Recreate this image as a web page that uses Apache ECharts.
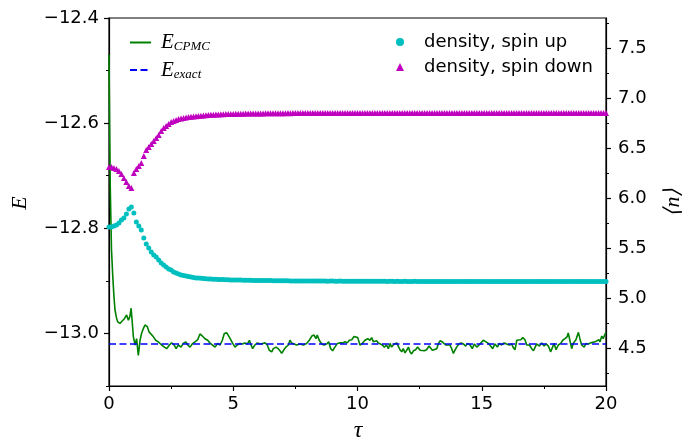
<!DOCTYPE html>
<html>
<head>
<meta charset="utf-8">
<script src="https://cdn.jsdelivr.net/npm/echarts@6/dist/echarts.min.js"></script>
<style>
  html, body { margin: 0; padding: 0; background: #ffffff; }
  #chart { width: 698px; height: 440px; }
</style>
</head>
<body>
<div id="chart"></div>
<script>
// CPMC energy estimate versus imaginary time tau
const cpmcTau = [
  0.00, 0.05, 0.10, 0.15, 0.20, 0.24, 0.30, 0.35, 0.44, 0.54, 0.62, 0.71, 0.78, 0.84, 0.89, 0.94, 0.98,
  1.05, 1.11, 1.18, 1.25, 1.31, 1.38, 1.45, 1.54, 1.61, 1.69, 1.78, 1.88, 1.98,
  2.12, 2.23, 2.32, 2.43, 2.52, 2.62, 2.70, 2.79, 2.90, 2.99,
  3.09, 3.17, 3.26, 3.35, 3.46, 3.57, 3.66, 3.76, 3.86, 3.97,
  4.06, 4.16, 4.27, 4.37, 4.47, 4.56, 4.64, 4.74, 4.83, 4.98,
  5.07, 5.16, 5.27, 5.38, 5.47, 5.57, 5.65, 5.70, 5.78, 5.87, 5.97,
  6.08, 6.18, 6.28, 6.37, 6.45, 6.55, 6.61, 6.72, 6.81, 6.88, 6.95,
  7.04, 7.12, 7.22, 7.28, 7.35, 7.45, 7.55, 7.69, 7.82, 7.95,
  8.06, 8.16, 8.25, 8.33, 8.38, 8.46, 8.56, 8.65, 8.76, 8.84, 8.92,
  9.00, 9.09, 9.19, 9.30, 9.40, 9.50, 9.59, 9.67, 9.77, 9.86, 9.94,
  10.01, 10.10, 10.19, 10.30, 10.41, 10.50, 10.57, 10.64, 10.70, 10.77, 10.84, 10.91,
  11.00, 11.08, 11.17, 11.24, 11.31, 11.37, 11.48, 11.58, 11.64, 11.71, 11.78, 11.84, 11.91, 11.98,
  12.05, 12.11, 12.18, 12.25, 12.34, 12.42, 12.52, 12.58, 12.69, 12.78, 12.88, 12.96,
  13.01, 13.09, 13.19, 13.25, 13.32, 13.41, 13.49, 13.55, 13.63, 13.72, 13.79, 13.86, 13.92, 13.99,
  14.08, 14.17, 14.26, 14.35, 14.43, 14.53, 14.62, 14.70, 14.80, 14.89, 14.97,
  15.06, 15.17, 15.27, 15.36, 15.44, 15.53, 15.63, 15.71, 15.80, 15.90,
  16.00, 16.11, 16.20, 16.27, 16.34, 16.41, 16.47, 16.57, 16.65, 16.74, 16.81, 16.92,
  17.01, 17.08, 17.14, 17.21, 17.32, 17.41, 17.51, 17.59, 17.68, 17.77, 17.85, 17.91, 17.99,
  18.08, 18.18, 18.26, 18.35, 18.44, 18.48, 18.55, 18.62, 18.69, 18.79, 18.89, 18.95,
  19.02, 19.12, 19.20, 19.29, 19.38, 19.46, 19.56, 19.62, 19.71, 19.76, 19.83, 19.89, 19.97, 20.00
];
const cpmcEnergy = [
  -12.470, -12.720, -12.840, -12.890, -12.930, -12.955, -12.970, -12.978, -12.981, -12.976, -12.972, -12.965, -12.975, -12.968, -12.952, -12.981, -13.006,
  -13.022, -13.010, -13.042, -13.013, -13.000, -12.991, -12.984, -12.987, -12.997, -13.000, -13.006, -13.013, -13.016,
  -13.022, -13.026, -13.029, -13.022, -13.018, -13.022, -13.029, -13.022, -13.026, -13.019,
  -13.016, -13.022, -13.026, -13.020, -13.016, -13.012, -13.001, -13.005, -13.010, -13.013,
  -13.018, -13.022, -13.026, -13.019, -13.022, -13.013, -13.000, -12.999, -13.006, -13.019,
  -13.026, -13.022, -13.019, -13.020, -13.018, -13.020, -13.013, -13.020, -13.029, -13.022, -13.018,
  -13.020, -13.019, -13.018, -13.022, -13.032, -13.035, -13.029, -13.026, -13.029, -13.033, -13.038,
  -13.031, -13.026, -13.022, -13.013, -13.018, -13.020, -13.022, -13.020, -13.022, -13.019,
  -13.013, -13.005, -13.003, -13.010, -13.003, -13.013, -13.020, -13.022, -13.020, -13.016, -13.029,
  -13.033, -13.026, -13.019, -13.018, -13.018, -13.016, -13.018, -13.013, -13.012, -13.006, -13.003,
  -13.008, -13.022, -13.019, -13.013, -13.010, -13.013, -13.008, -13.016, -13.019, -13.014, -13.018, -13.016,
  -13.022, -13.026, -13.022, -13.029, -13.019, -13.026, -13.020, -13.018, -13.024, -13.031, -13.035, -13.029, -13.037, -13.032,
  -13.026, -13.035, -13.039, -13.033, -13.031, -13.026, -13.032, -13.035, -13.033, -13.031, -13.024, -13.026,
  -13.032, -13.035, -13.029, -13.020, -13.014, -13.016, -13.018, -13.022, -13.020, -13.022, -13.029, -13.038, -13.032, -13.026,
  -13.020, -13.018, -13.020, -13.024, -13.019, -13.022, -13.029, -13.020, -13.026, -13.022, -13.018,
  -13.013, -13.016, -13.019, -13.024, -13.029, -13.020, -13.026, -13.019, -13.022, -13.018,
  -13.020, -13.022, -13.020, -13.027, -13.031, -13.013, -13.010, -13.012, -13.008, -13.012, -13.022, -13.022,
  -13.029, -13.033, -13.027, -13.020, -13.024, -13.018, -13.024, -13.020, -13.024, -13.035, -13.026, -13.019, -13.031,
  -13.022, -13.019, -13.013, -13.010, -13.006, -12.999, -13.014, -13.029, -13.018, -13.012, -12.998, -13.010,
  -13.022, -13.026, -13.019, -13.020, -13.018, -13.020, -13.016, -13.019, -13.012, -13.016, -13.005, -13.010, -13.000, -12.998
];

// exact ground-state energy
const exactTau = [0, 20];
const exactEnergy = [-13.02, -13.02];

// site densities, sampled every densityStep in tau
const densityStep = 0.1;
const spinUp = [
  5.71, 5.71, 5.72, 5.73, 5.75, 5.78, 5.80, 5.84, 5.89, 5.91,
  5.85, 5.76, 5.72, 5.68, 5.60, 5.54, 5.50, 5.46, 5.43, 5.41,
  5.38, 5.35, 5.33, 5.31, 5.29, 5.28, 5.26, 5.25, 5.24, 5.23,
  5.225, 5.22, 5.215, 5.21, 5.205, 5.20, 5.20, 5.198, 5.195, 5.193,
  5.190, 5.190, 5.188, 5.187, 5.186, 5.185, 5.184, 5.183, 5.182, 5.181,
  5.180, 5.180, 5.179, 5.179, 5.178, 5.178, 5.177, 5.177, 5.176, 5.176,
  5.175, 5.175, 5.175, 5.174, 5.174, 5.174, 5.173, 5.173, 5.173, 5.172,
  5.172, 5.172, 5.172, 5.171, 5.171, 5.171, 5.171, 5.170, 5.170, 5.170,
  5.170, 5.170, 5.169, 5.169, 5.170, 5.169, 5.169, 5.169, 5.168, 5.169,
  5.169, 5.168, 5.168, 5.169, 5.168, 5.168, 5.168, 5.168, 5.167, 5.168,
  5.168, 5.168, 5.167, 5.168, 5.167, 5.167, 5.168, 5.167, 5.167, 5.167,
  5.167, 5.167, 5.166, 5.167, 5.167, 5.166, 5.167, 5.166, 5.166, 5.167,
  5.166, 5.166, 5.166, 5.167, 5.166, 5.166, 5.166, 5.166, 5.166, 5.166,
  5.166, 5.165, 5.166, 5.166, 5.166, 5.165, 5.166, 5.165, 5.166, 5.166,
  5.165, 5.166, 5.165, 5.165, 5.166, 5.165, 5.165, 5.165, 5.166, 5.165,
  5.165, 5.165, 5.165, 5.166, 5.165, 5.165, 5.165, 5.165, 5.165, 5.165,
  5.165, 5.165, 5.166, 5.165, 5.165, 5.165, 5.165, 5.165, 5.165, 5.166,
  5.165, 5.165, 5.165, 5.165, 5.165, 5.166, 5.165, 5.165, 5.165, 5.165,
  5.165, 5.165, 5.165, 5.165, 5.166, 5.165, 5.165, 5.165, 5.165, 5.165,
  5.165, 5.165, 5.165, 5.165, 5.165, 5.165, 5.166, 5.165, 5.165, 5.165,
  5.165
];
const spinDown = [
  6.31, 6.31, 6.30, 6.29, 6.27, 6.24, 6.20, 6.16, 6.12, 6.10,
  6.25, 6.29, 6.32, 6.35, 6.42, 6.48, 6.51, 6.54, 6.57, 6.60,
  6.63, 6.67, 6.70, 6.72, 6.74, 6.76, 6.77, 6.78, 6.79, 6.795,
  6.800, 6.805, 6.810, 6.812, 6.815, 6.818, 6.820, 6.822, 6.825, 6.827,
  6.830, 6.832, 6.833, 6.835, 6.836, 6.837, 6.838, 6.839, 6.840, 6.840,
  6.841, 6.842, 6.842, 6.843, 6.843, 6.844, 6.844, 6.845, 6.845, 6.845,
  6.846, 6.846, 6.846, 6.847, 6.847, 6.847, 6.847, 6.848, 6.848, 6.848,
  6.848, 6.848, 6.849, 6.848, 6.849, 6.849, 6.849, 6.849, 6.849, 6.849,
  6.850, 6.849, 6.850, 6.850, 6.849, 6.850, 6.850, 6.850, 6.850, 6.850,
  6.850, 6.850, 6.850, 6.851, 6.850, 6.850, 6.850, 6.850, 6.851, 6.850,
  6.850, 6.850, 6.851, 6.850, 6.850, 6.851, 6.850, 6.850, 6.850, 6.851,
  6.850, 6.851, 6.850, 6.850, 6.851, 6.850, 6.851, 6.850, 6.850, 6.850,
  6.851, 6.850, 6.850, 6.851, 6.850, 6.850, 6.850, 6.851, 6.850, 6.850,
  6.850, 6.851, 6.850, 6.850, 6.850, 6.851, 6.850, 6.850, 6.851, 6.850,
  6.850, 6.850, 6.851, 6.850, 6.850, 6.850, 6.851, 6.850, 6.850, 6.850,
  6.851, 6.850, 6.850, 6.850, 6.851, 6.850, 6.850, 6.850, 6.850, 6.851,
  6.850, 6.850, 6.851, 6.850, 6.850, 6.850, 6.850, 6.851, 6.850, 6.850,
  6.850, 6.851, 6.850, 6.850, 6.850, 6.850, 6.851, 6.850, 6.850, 6.850,
  6.851, 6.850, 6.850, 6.850, 6.850, 6.851, 6.850, 6.850, 6.850, 6.850,
  6.850, 6.850, 6.851, 6.850, 6.850, 6.850, 6.850, 6.850, 6.851, 6.850,
  6.850
];

// axis ranges and tick positions
const tauRange = [0, 20];
const tauStep = 5;
const energyRange = [-13.1, -12.4];
const energyTicks = [-13.0, -12.8, -12.6, -12.4];
const energyMinorTicks = [-13.1, -12.9, -12.7, -12.5];
const densityRange = [4.12, 7.80];
const densityTicks = [4.5, 5.0, 5.5, 6.0, 6.5, 7.0, 7.5];
const densityMinorTicks = [4.25, 4.75, 5.25, 5.75, 6.25, 6.75, 7.25, 7.75];

const INK = '#000000';
const TICK_FONT = 'DejaVu Sans';
const MATH_FONT = 'Liberation Serif';
const fmt = v => v.toFixed(1).replace('-', '\u2212');

function zip(xs, ys) { return xs.map((x, i) => [x, ys[i]]); }
const spinUpData = spinUp.map((v, i) => [+(i * densityStep).toFixed(2), v]);
const spinDownData = spinDown.map((v, i) => [+(i * densityStep).toFixed(2), v]);

const majorAxis = (pos, range, ticks, margin) => ({
  type: 'value', position: pos, min: range[0], max: range[1],
  axisLine: { show: true, lineStyle: { color: INK, width: 1.2 } },
  axisTick: { show: true, customValues: ticks, length: 5, lineStyle: { color: INK, width: 1.2 } },
  axisLabel: { show: true, customValues: ticks, formatter: fmt, margin: margin,
               color: INK, fontSize: 18, fontFamily: TICK_FONT },
  splitLine: { show: false }
});
const minorAxis = (pos, range, ticks) => ({
  type: 'value', position: pos, min: range[0], max: range[1],
  axisLine: { show: false },
  axisTick: { show: true, customValues: ticks, length: 3, lineStyle: { color: INK, width: 1 } },
  axisLabel: { show: false },
  splitLine: { show: false }
});

const chart = echarts.init(document.getElementById('chart'), null, { renderer: 'canvas' });
chart.setOption({
  animation: false,
  backgroundColor: '#ffffff',
  grid: { left: 109, right: 92, top: 18, bottom: 54, show: true,
          borderColor: INK, borderWidth: 1.2, backgroundColor: 'transparent' },
  xAxis: {
    type: 'value', min: tauRange[0], max: tauRange[1], interval: tauStep,
    axisLine: { show: true, lineStyle: { color: INK, width: 1.2 } },
    axisTick: { show: true, length: 5, lineStyle: { color: INK, width: 1.2 } },
    minorTick: { show: true, splitNumber: 2, length: 3, lineStyle: { color: INK, width: 1 } },
    axisLabel: { color: INK, fontSize: 18, fontFamily: TICK_FONT, margin: 9 },
    splitLine: { show: false }
  },
  yAxis: [
    majorAxis('left', energyRange, energyTicks, 10),
    majorAxis('right', densityRange, densityTicks, 12),
    minorAxis('left', energyRange, energyMinorTicks),
    minorAxis('right', densityRange, densityMinorTicks)
  ],
  legend: [
    {
      data: ['E_CPMC', 'E_exact'],
      orient: 'vertical', left: 124, top: 27, itemWidth: 21, itemHeight: 14, itemGap: 6,
      itemStyle: { opacity: 0 },
      lineStyle: { opacity: 1 },
      formatter: name => name === 'E_CPMC' ? '{e|E}{s|CPMC}' : '{e|E}{s|exact}',
      textStyle: {
        rich: {
          e: { fontFamily: MATH_FONT, fontStyle: 'italic', fontSize: 21, lineHeight: 22, color: INK, padding: [0, 0, 0, 5] },
          s: { fontFamily: MATH_FONT, fontStyle: 'italic', fontSize: 13, lineHeight: 10, color: INK, verticalAlign: 'bottom' }
        }
      }
    },
    {
      data: ['density, spin up', 'density, spin down'],
      orient: 'vertical', left: 391, top: 28, itemWidth: 8, itemHeight: 8, itemGap: 7,
      formatter: name => '{t|' + name + '}',
      textStyle: {
        rich: { t: { fontFamily: TICK_FONT, fontSize: 18, lineHeight: 20, color: INK, padding: [0, 0, 0, 15] } }
      }
    }
  ],
  graphic: [
    { type: 'text', x: 20, y: 203, rotation: Math.PI / 2,
      style: { text: 'E', font: 'italic 22px "Liberation Serif"', fill: INK, align: 'center', verticalAlign: 'middle' } },
    { type: 'text', x: 673, y: 202, rotation: Math.PI / 2,
      style: { text: '\u27E8n\u27E9', font: 'italic 22px "Liberation Serif"', fill: INK, align: 'center', verticalAlign: 'middle' } },
    { type: 'text', x: 358, y: 431,
      style: { text: '\u03C4', font: 'italic 24px "Liberation Serif"', fill: INK, align: 'center', verticalAlign: 'middle' } }
  ],
  series: [
    { name: 'E_CPMC', type: 'line', xAxisIndex: 0, yAxisIndex: 0, data: zip(cpmcTau, cpmcEnergy),
      symbol: 'none', lineStyle: { color: '#008000', width: 1.6 }, itemStyle: { color: '#008000' }, z: 2 },
    { name: 'E_exact', type: 'line', xAxisIndex: 0, yAxisIndex: 0, data: zip(exactTau, exactEnergy),
      symbol: 'none', lineStyle: { color: '#0000ff', width: 1.6, type: [7, 3.5] }, itemStyle: { color: '#0000ff' }, z: 3 },
    { name: 'density, spin up', type: 'scatter', xAxisIndex: 0, yAxisIndex: 1, data: spinUpData,
      symbol: 'circle', symbolSize: 5, itemStyle: { color: '#00bfbf', opacity: 1 }, z: 4 },
    { name: 'density, spin down', type: 'scatter', xAxisIndex: 0, yAxisIndex: 1, data: spinDownData,
      symbol: 'triangle', symbolSize: 6, itemStyle: { color: '#bf00bf', opacity: 1 }, z: 4 }
  ]
});
</script>
</body>
</html>
